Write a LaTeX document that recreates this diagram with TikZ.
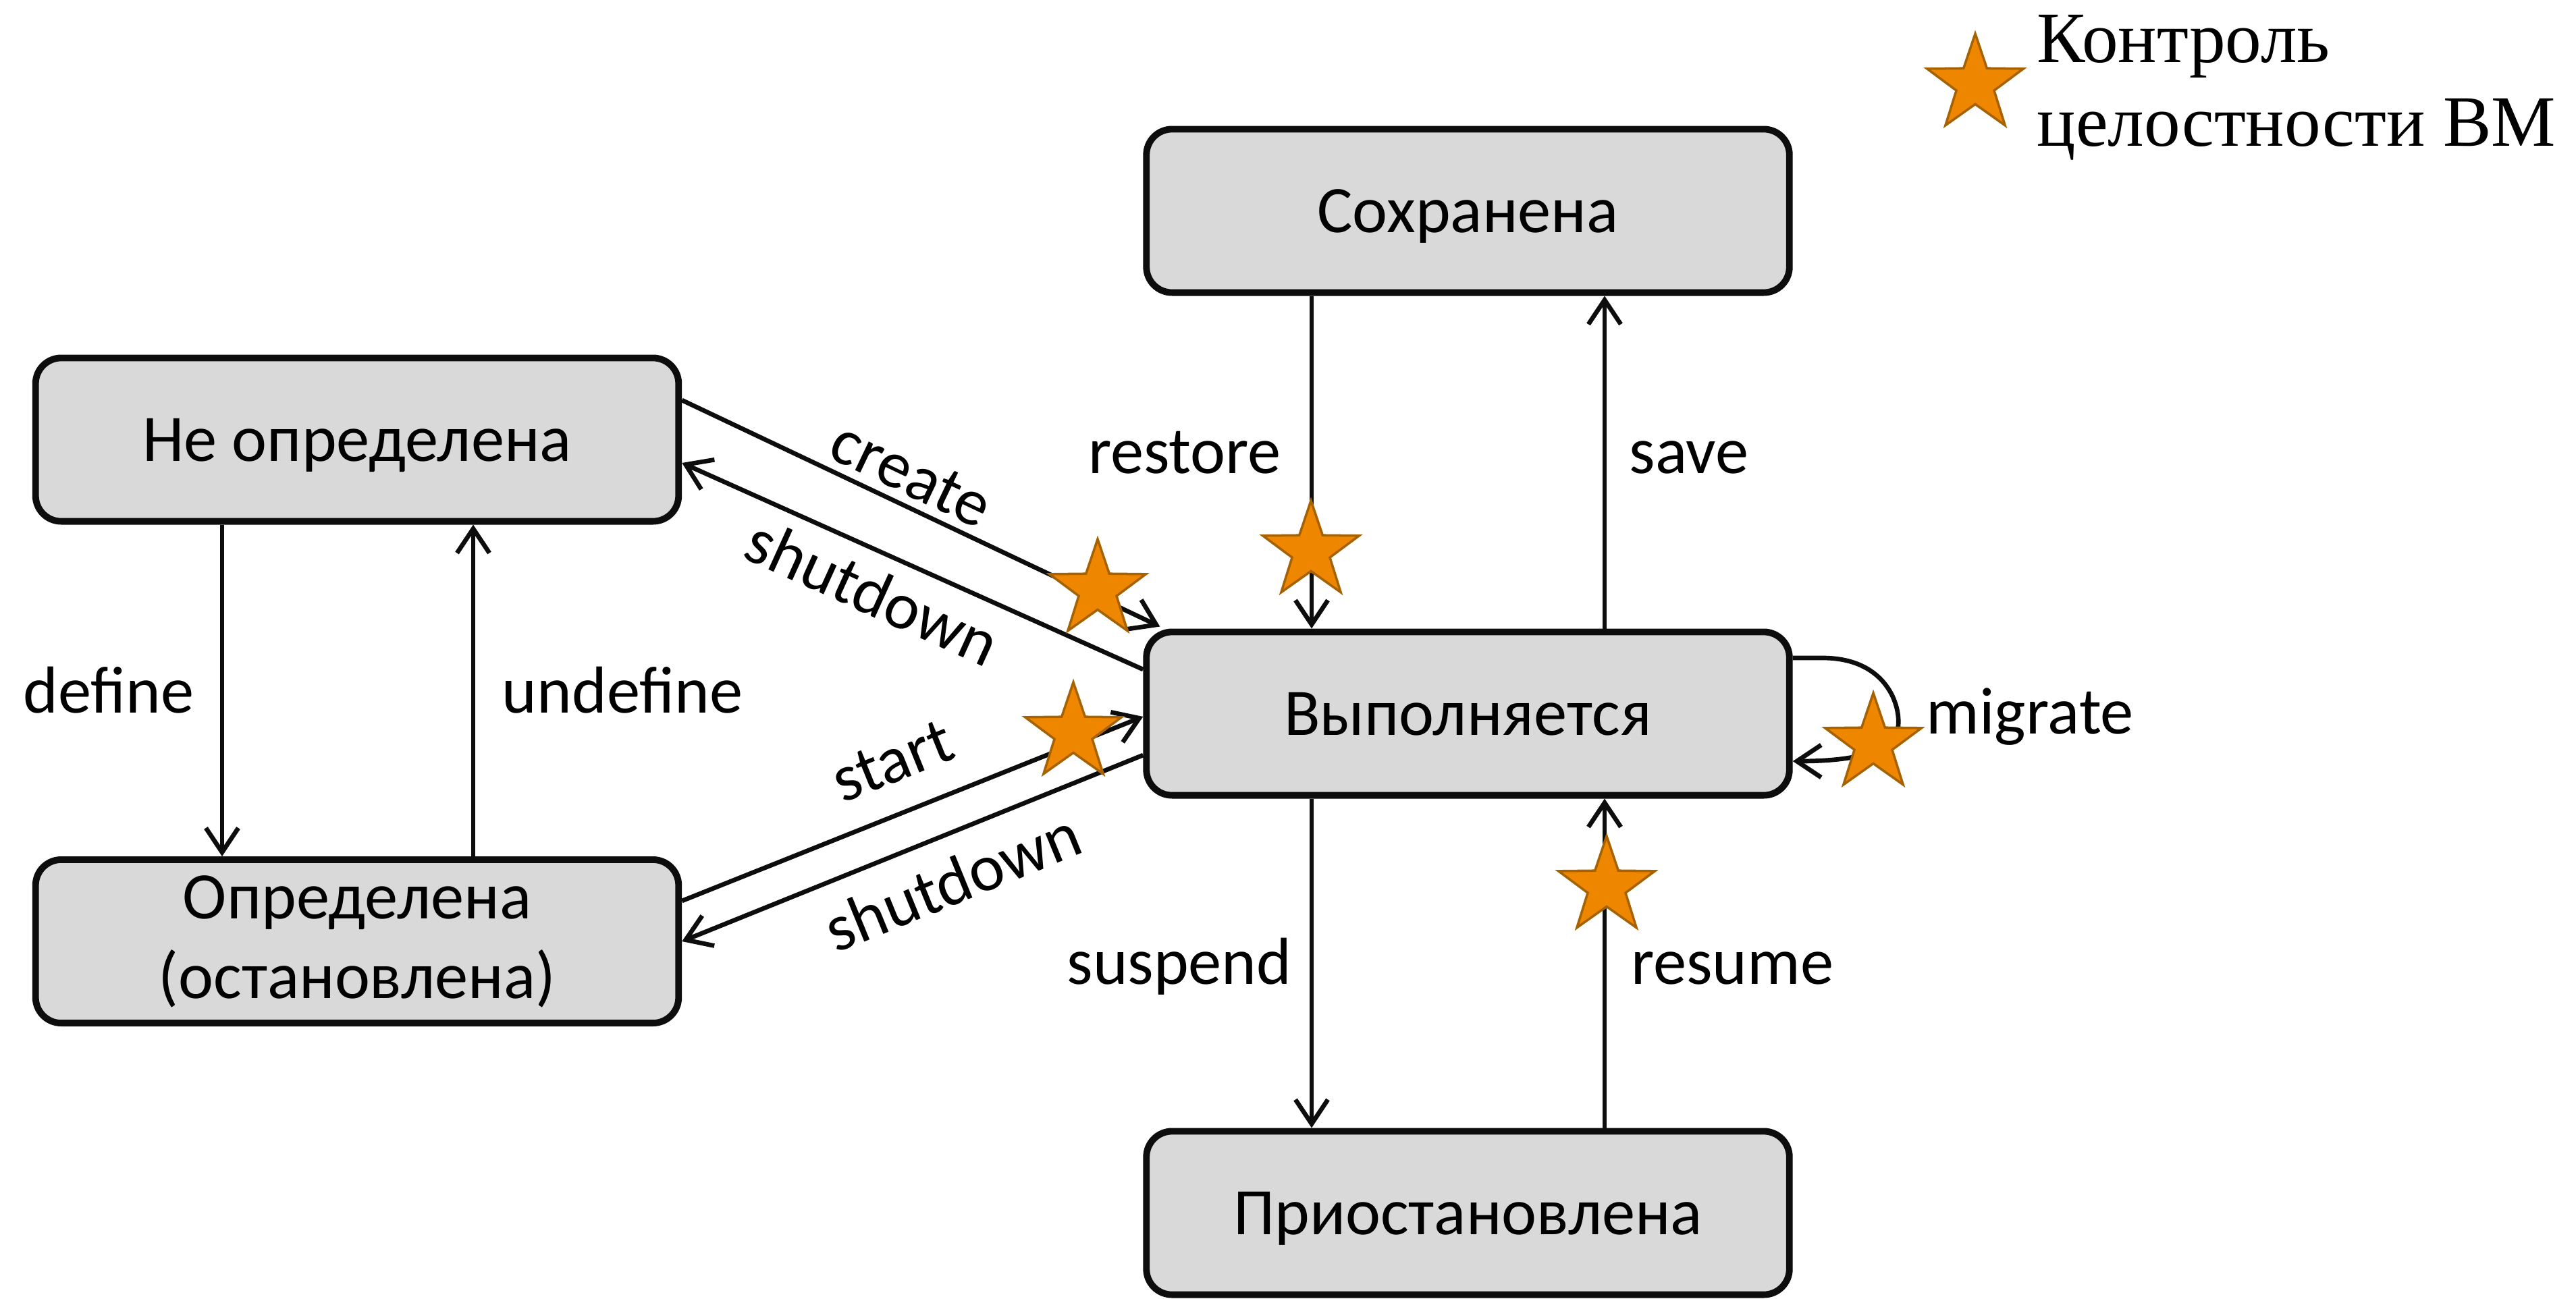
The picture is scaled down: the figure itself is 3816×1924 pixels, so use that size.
\documentclass[tikz,border=0pt]{standalone}
\usepackage{fontspec}
\setmainfont{Carlito}
\newfontfamily\legendfont{Liberation Serif}
\usetikzlibrary{arrows.meta,shapes.geometric}
\definecolor{boxgray}{RGB}{217,217,217}
\definecolor{starfill}{RGB}{238,134,0}
\definecolor{stardraw}{RGB}{166,98,0}
\tikzset{
  state/.style={draw=black!95, line width=2.8pt, fill=boxgray, rounded corners=0.38cm,
    minimum width=9.52cm, minimum height=2.42cm, inner sep=0pt,
    font=\fontsize{28}{33.6}\selectfont, align=center},
  onetext/.style={text height=0.66cm, text depth=0.02cm},
  conn/.style={line width=1.9pt, draw=black!95, -{Straight Barb[length=0.36cm,width=0.48cm]}},
  lbl/.style={font=\fontsize{28}{33.6}\selectfont, inner sep=0pt},
  vmstar/.style={star, star points=5, star point ratio=2.55, minimum size=1.5cm,
    inner sep=0pt, fill=starfill, draw=stardraw, line width=1pt},
  legend/.style={font=\legendfont\fontsize{30.5}{35.8}\selectfont, inner sep=0pt, anchor=base west}
}
\begin{document}
\begin{tikzpicture}[x=0.01cm,y=-0.01cm]
\useasboundingbox (0,0) rectangle (3816,1924);

% states
\node[state,onetext] (A) at (529,651.5) {Не определена};
\node[state] (B) at (529,1395) {Определена\\(остановлена)};
\node[state,onetext] (C) at (2174.5,312.5) {Сохранена};
\node[state,onetext] (D) at (2174.5,1057.5) {Выполняется};
\node[state,onetext] (E) at (2174.5,1797.5) {Приостановлена};

% vertical transitions
\draw[conn] (A.south -| 329,0) -- (B.north -| 329,0);
\draw[conn] (B.north -| 701,0) -- (A.south -| 701,0);
\draw[conn] (C.south -| 1943,0) -- (D.north -| 1943,0);
\draw[conn] (D.north -| 2377,0) -- (C.south -| 2377,0);
\draw[conn] (D.south -| 1943,0) -- (E.north -| 1943,0);
\draw[conn] (E.north -| 2377,0) -- (D.south -| 2377,0);

% diagonal transitions
\coordinate (createEnd) at ([xshift=0.25cm,yshift=0.03cm]D.north west);
\draw[conn] (A.east |- 0,593) -- (createEnd);
\draw[conn] (D.west |- 0,992) -- (A.east |- 0,686);
\draw[conn] (B.east |- 0,1335) -- (D.west |- 0,1062);
\draw[conn] (D.west |- 0,1119) -- (B.east |- 0,1395);

% migrate loop
\draw[conn] (D.east |- 0,975) -- (2700,975)
  .. controls (2790,975) and (2815,1040) .. (2812,1075)
  .. controls (2809,1112) and (2755,1128) .. (D.east |- 0,1128);

% labels
\node[lbl,anchor=base] (ldef) at (161,1056) {define};
\node[lbl,anchor=base] (lundef) at (922,1056) {undefine};
\node[lbl,anchor=base] (lrest) at (1755,701) {restore};
\node[lbl,anchor=base] (lsave) at (2502,701) {save};
\node[lbl,anchor=base] (lsusp) at (1747,1458) {suspend};
\node[lbl,anchor=base] (lres) at (2566,1458) {resume};
\node[lbl,anchor=base west] (lmig) at (2853,1087) {migrate};
\node[lbl,rotate=-25.5] (lcreate) at (1350,703) {create};
\node[lbl,rotate=-24.4] (lshut1) at (1293,877) {shutdown};
\node[lbl,rotate=22] (lstart) at (1322,1128) {start};
\node[lbl,rotate=22.2] (lshut2) at (1411,1306) {shutdown};

% integrity-control stars
\node[vmstar] (s1) at (1626,874) {};
\node[vmstar] (s2) at (1942,817) {};
\node[vmstar] (s3) at (1590,1086) {};
\node[vmstar] (s4) at (2775,1102) {};
\node[vmstar] (s5) at (2380,1314) {};

% legend
\node[vmstar] (ls) at (2926,125) {};
\node[legend] (lg1) at (3017,92) {Контроль};
\node[legend] (lg2) at (3017,216) {целостности ВМ};
\end{tikzpicture}
\end{document}
